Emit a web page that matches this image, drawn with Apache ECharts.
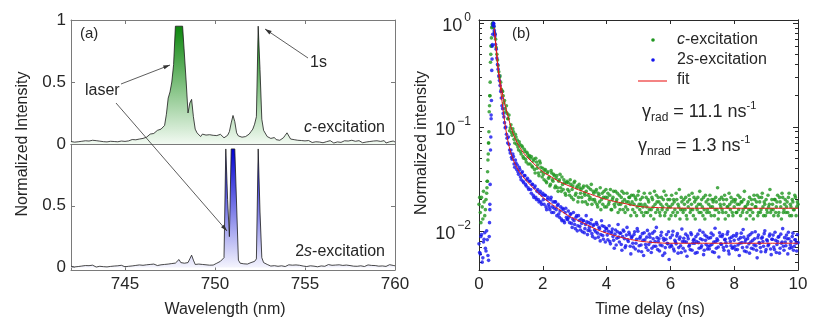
<!DOCTYPE html>
<html>
<head>
<meta charset="utf-8">
<script src="https://cdn.jsdelivr.net/npm/echarts@6/dist/echarts.min.js"></script>
<style>
  html, body { margin: 0; padding: 0; background: #fff; }
  #chart { width: 831px; height: 327px; }
</style>
</head>
<body>
<div id="chart"></div>
<script>
// ---- (a) emission spectra, 742 - 760 nm in 0.1 nm steps ----
const wlStart = 742
const wlStep = 0.1
const wlTicks = [745, 750, 755, 760]
const specTicksTop = [0, 0.5, 1]
const specTicksBottom = [0, 0.5]

const cSpec = [
  0.02, 0.03, 0.015, 0.025, 0.018, 0.028, 0.022, 0.012, 0.026, 0.02,
  0.024, 0.016, 0.03, 0.021, 0.027, 0.014, 0.023, 0.031, 0.019, 0.025,
  0.017, 0.028, 0.022, 0.033, 0.02, 0.026, 0.018, 0.03, 0.024, 0.029,
  0.021, 0.032, 0.025, 0.03, 0.036, 0.027, 0.034, 0.03, 0.04, 0.035,
  0.045, 0.05, 0.055, 0.065, 0.08, 0.09, 0.085, 0.1, 0.11, 0.105,
  0.12, 0.13, 0.15, 0.24, 0.37, 0.42, 0.5, 0.64, 0.95, 0.95,
  0.95, 0.95, 0.95, 0.95, 0.5, 0.25, 0.33, 0.36, 0.22, 0.12,
  0.09, 0.075, 0.06, 0.08, 0.065, 0.072, 0.058, 0.075, 0.062, 0.07,
  0.055, 0.068, 0.06, 0.078, 0.064, 0.05, 0.062, 0.07, 0.1, 0.17,
  0.23, 0.18, 0.09, 0.065, 0.07, 0.055, 0.068, 0.06, 0.075, 0.08,
  0.1, 0.12, 0.16, 0.22, 0.95, 0.6, 0.2, 0.11, 0.1, 0.06,
  0.05, 0.045, 0.04, 0.052, 0.035, 0.048, 0.03, 0.045, 0.05, 0.07,
  0.09, 0.08, 0.04, 0.03, 0.035, 0.022, 0.03, 0.018, 0.028, 0.02,
  0.025, 0.015, 0.028, 0.02, 0.012, 0.024, 0.018, 0.03, 0.016, 0.022,
  0.01, 0.026, 0.019, 0.014, 0.027, 0.02, 0.008, 0.023, 0.017, 0.029,
  0.013, 0.021, 0.026, 0.011, 0.024, 0.018, 0.03, 0.015, 0.022, 0.012,
  0.027, 0.019, 0.01, 0.025, 0.016, 0.028, 0.02, 0.009, 0.024, 0.017,
  0.026, 0.012, 0.021, 0.015, 0.027, 0.008, 0.022, 0.018, 0.011, 0.024,
  0.016
]

const sSpec = [
  0.01, 0.018, 0.005, 0.014, 0.008, 0.02, 0.012, 0.003, 0.016, 0.009,
  0.015, 0.006, 0.019, 0.011, 0.004, 0.017, 0.01, 0.022, 0.007, 0.013,
  0.005, 0.016, 0.009, 0.02, 0.012, 0.003, 0.014, 0.008, 0.018, 0.011,
  0.006, 0.015, 0.01, 0.019, 0.013, 0.007, 0.017, 0.011, 0.021, 0.014,
  0.018, 0.01, 0.022, 0.015, 0.025, 0.017, 0.028, 0.02, 0.016, 0.026,
  0.022, 0.03, 0.025, 0.035, 0.028, 0.04, 0.032, 0.045, 0.036, 0.03,
  0.065, 0.04, 0.03, 0.035, 0.028, 0.04, 0.07, 0.1, 0.06, 0.025,
  0.02, 0.028, 0.018, 0.025, 0.015, 0.022, 0.03, 0.019, 0.026, 0.02,
  0.028, 0.035, 0.045, 0.05, 0.06, 0.08, 0.96, 0.55, 0.25, 0.96,
  0.96, 0.96, 0.96, 0.06, 0.035, 0.025, 0.03, 0.02, 0.028, 0.035,
  0.04, 0.045, 0.05, 0.07, 0.96, 0.45, 0.08, 0.04, 0.03, 0.025,
  0.02, 0.012, 0.024, 0.015, 0.02, 0.01, 0.022, 0.014, 0.018, 0.008,
  0.016, 0.022, 0.01, 0.019, 0.013, 0.021, 0.009, 0.018, 0.024, 0.012,
  0.017, 0.008, 0.02, 0.014, 0.023, 0.011, 0.016, 0.006, 0.019, 0.013,
  0.021, 0.01, 0.015, 0.024, 0.012, 0.018, 0.007, 0.02, 0.014, 0.022,
  0.009, 0.017, 0.013, 0.02, 0.006, 0.016, 0.023, 0.011, 0.018, 0.01,
  0.019, 0.014, 0.024, 0.008, 0.015, 0.021, 0.012, 0.017, 0.005, 0.016,
  0.022, 0.011, 0.018, 0.013, 0.02, 0.009, 0.016, 0.023, 0.012, 0.017,
  0.014
]

// ---- (b) time-resolved decay, 0 - 10 ns; two interleaved 0.04 ns sample sets ----
const tStep = 0.04
const tOffset2 = 0.02
const timeTicks = [0, 2, 4, 6, 8, 10]
const decadeTicks = [0.01, 0.1, 1]
const minorTicks = [0.005, 0.006, 0.007, 0.008, 0.009, 0.02, 0.03, 0.04, 0.05, 0.06, 0.07, 0.08, 0.09,
  0.2, 0.3, 0.4, 0.5, 0.6, 0.7, 0.8, 0.9]

// samples at t = 0, 0.04, 0.08 ... 10
const cDecay = [
  0.018, 0.015, 0.021, 0.013, 0.019, 0.016, 0.023, 0.048, 0.14, 0.42,
  0.9, 0.97, 0.82, 0.7, 0.5, 0.39, 0.3, 0.27, 0.22, 0.2,
  0.18, 0.14, 0.135, 0.12, 0.092, 0.105, 0.083, 0.09, 0.07, 0.08,
  0.075, 0.06, 0.068, 0.055, 0.064, 0.05, 0.058, 0.046, 0.055, 0.052,
  0.044, 0.052, 0.041, 0.049, 0.036, 0.046, 0.043, 0.034, 0.045, 0.037,
  0.04, 0.031, 0.039, 0.029, 0.037, 0.033, 0.028, 0.036, 0.03, 0.034,
  0.027, 0.034, 0.024, 0.031, 0.026, 0.033, 0.025, 0.029, 0.022, 0.03,
  0.029, 0.022, 0.028, 0.025, 0.02, 0.03, 0.023, 0.027, 0.021, 0.026,
  0.025, 0.019, 0.027, 0.022, 0.024, 0.018, 0.026, 0.021, 0.028, 0.02,
  0.023, 0.019, 0.025, 0.017, 0.022, 0.026, 0.02, 0.018, 0.024, 0.021,
  0.017, 0.023, 0.019, 0.025, 0.016, 0.021, 0.018, 0.024, 0.02, 0.015,
  0.022, 0.018, 0.024, 0.016, 0.02, 0.017, 0.023, 0.019, 0.021, 0.014,
  0.019, 0.022, 0.015, 0.02, 0.017, 0.024, 0.016, 0.018, 0.021, 0.014,
  0.018, 0.021, 0.015, 0.019, 0.023, 0.016, 0.02, 0.013, 0.018, 0.022,
  0.016, 0.019, 0.014, 0.021, 0.017, 0.024, 0.015, 0.018, 0.02, 0.013,
  0.017, 0.022, 0.015, 0.019, 0.014, 0.02, 0.018, 0.025, 0.016, 0.019,
  0.015, 0.018, 0.021, 0.013, 0.017, 0.02, 0.016, 0.023, 0.014, 0.019,
  0.02, 0.016, 0.018, 0.024, 0.015, 0.017, 0.021, 0.013, 0.019, 0.016,
  0.018, 0.022, 0.014, 0.017, 0.02, 0.016, 0.019, 0.026, 0.015, 0.018,
  0.021, 0.015, 0.018, 0.013, 0.02, 0.017, 0.023, 0.016, 0.019, 0.014,
  0.017, 0.02, 0.015, 0.022, 0.018, 0.014, 0.019, 0.016, 0.024, 0.017,
  0.015, 0.019, 0.021, 0.016, 0.018, 0.013, 0.02, 0.017, 0.022, 0.015,
  0.019, 0.016, 0.023, 0.014, 0.018, 0.02, 0.015, 0.017, 0.025, 0.016,
  0.018, 0.014, 0.02, 0.017, 0.022, 0.015, 0.019, 0.013, 0.021, 0.016,
  0.02, 0.017, 0.015, 0.023, 0.018, 0.014, 0.019, 0.016, 0.021, 0.017,
  0.018
]
// samples at t = 0.02, 0.06 ... 9.98
const cDecay2 = [
  0.021, 0.012, 0.017, 0.024, 0.014, 0.02, 0.03, 0.07, 0.2, 0.6,
  0.98, 0.93, 0.78, 0.58, 0.44, 0.34, 0.31, 0.23, 0.22, 0.17,
  0.15, 0.16, 0.12, 0.13, 0.098, 0.088, 0.096, 0.076, 0.085, 0.068,
  0.064, 0.072, 0.058, 0.066, 0.052, 0.061, 0.049, 0.057, 0.044, 0.053,
  0.05, 0.042, 0.047, 0.039, 0.05, 0.04, 0.036, 0.047, 0.041, 0.033,
  0.035, 0.038, 0.03, 0.036, 0.032, 0.027, 0.038, 0.031, 0.035, 0.026,
  0.032, 0.026, 0.03, 0.035, 0.024, 0.028, 0.031, 0.023, 0.029, 0.025,
  0.024, 0.031, 0.021, 0.027, 0.029, 0.022, 0.026, 0.019, 0.028, 0.023,
  0.021, 0.026, 0.023, 0.019, 0.027, 0.022, 0.02, 0.025, 0.018, 0.024,
  0.02, 0.024, 0.018, 0.023, 0.019, 0.016, 0.023, 0.021, 0.017, 0.025,
  0.021, 0.018, 0.022, 0.016, 0.02, 0.024, 0.017, 0.019, 0.023, 0.018,
  0.016, 0.021, 0.019, 0.023, 0.015, 0.019, 0.016, 0.021, 0.018, 0.022,
  0.016, 0.018, 0.021, 0.014, 0.022, 0.018, 0.02, 0.015, 0.017, 0.023,
  0.015, 0.017, 0.02, 0.016, 0.014, 0.021, 0.017, 0.024, 0.015, 0.019,
  0.021, 0.015, 0.018, 0.016, 0.02, 0.014, 0.022, 0.016, 0.017, 0.02,
  0.014, 0.018, 0.02, 0.016, 0.023, 0.015, 0.017, 0.013, 0.021, 0.016,
  0.02, 0.016, 0.014, 0.019, 0.022, 0.015, 0.018, 0.016, 0.021, 0.013,
  0.017, 0.021, 0.015, 0.018, 0.02, 0.014, 0.016, 0.022, 0.015, 0.02,
  0.015, 0.017, 0.02, 0.019, 0.014, 0.021, 0.016, 0.013, 0.02, 0.017,
  0.016, 0.02, 0.022, 0.015, 0.017, 0.014, 0.018, 0.021, 0.015, 0.02,
  0.019, 0.015, 0.018, 0.016, 0.021, 0.019, 0.015, 0.02, 0.017, 0.013,
  0.018, 0.016, 0.014, 0.02, 0.015, 0.022, 0.017, 0.019, 0.014, 0.021,
  0.015, 0.021, 0.017, 0.019, 0.014, 0.016, 0.022, 0.018, 0.015, 0.02,
  0.016, 0.02, 0.015, 0.019, 0.014, 0.021, 0.017, 0.023, 0.015, 0.018,
  0.015, 0.019, 0.021, 0.014, 0.017, 0.02, 0.016, 0.022, 0.014, 0.019
]

const sDecay = [
  0.0075, 0.006, 0.0092, 0.0055, 0.0083, 0.0068, 0.01, 0.0058, 0.0088, 0.06,
  0.35, 0.95, 0.85, 0.62, 0.46, 0.36, 0.28, 0.22, 0.16, 0.135,
  0.11, 0.1, 0.078, 0.08, 0.06, 0.06, 0.049, 0.052, 0.041, 0.045,
  0.043, 0.035, 0.039, 0.031, 0.037, 0.029, 0.034, 0.027, 0.032, 0.025,
  0.03, 0.023, 0.028, 0.021, 0.027, 0.02, 0.025, 0.019, 0.024, 0.018,
  0.023, 0.018, 0.022, 0.016, 0.021, 0.017, 0.02, 0.015, 0.019, 0.0165,
  0.019, 0.014, 0.018, 0.0135, 0.017, 0.0125, 0.016, 0.012, 0.0165, 0.013,
  0.0155, 0.012, 0.0145, 0.0108, 0.015, 0.0115, 0.0135, 0.01, 0.014, 0.011,
  0.013, 0.0098, 0.0125, 0.0105, 0.014, 0.0092, 0.012, 0.01, 0.0128, 0.0088,
  0.0115, 0.0085, 0.012, 0.0095, 0.0108, 0.008, 0.0125, 0.009, 0.011, 0.0078,
  0.0105, 0.0082, 0.0112, 0.0075, 0.0098, 0.0088, 0.0068, 0.0102, 0.0085, 0.0115,
  0.0078, 0.0095, 0.0065, 0.0102, 0.0084, 0.0072, 0.0108, 0.0079, 0.0092, 0.006,
  0.0088, 0.007, 0.0098, 0.0076, 0.0105, 0.0064, 0.0085, 0.0073, 0.0094, 0.0058,
  0.0082, 0.0069, 0.0101, 0.0074, 0.0087, 0.0062, 0.0095, 0.0071, 0.0079, 0.0108,
  0.0066, 0.0084, 0.0073, 0.0097, 0.0058, 0.0081, 0.0069, 0.0092, 0.0075, 0.0053,
  0.0086, 0.0071, 0.0099, 0.0064, 0.0078, 0.0089, 0.0061, 0.0083, 0.0072, 0.0104,
  0.0068, 0.0079, 0.0093, 0.0057, 0.0084, 0.0073, 0.0096, 0.0065, 0.0081, 0.0076,
  0.0088, 0.0062, 0.0077, 0.0101, 0.0069, 0.0082, 0.0059, 0.0091, 0.0074, 0.0067,
  0.0085, 0.0072, 0.0095, 0.0063, 0.0078, 0.0106, 0.0068, 0.0081, 0.0056, 0.0089,
  0.0074, 0.0092, 0.0065, 0.0083, 0.0071, 0.0098, 0.006, 0.0079, 0.0087, 0.0069,
  0.0081, 0.0066, 0.0094, 0.0073, 0.0058, 0.0086, 0.0077, 0.0103, 0.0064, 0.0082,
  0.007, 0.0089, 0.0061, 0.0078, 0.0096, 0.0067, 0.0084, 0.0072, 0.0055, 0.0091,
  0.0076, 0.0063, 0.0087, 0.0071, 0.01, 0.0066, 0.008, 0.0074, 0.0093, 0.0059,
  0.0083, 0.007, 0.0097, 0.0062, 0.0079, 0.0088, 0.0068, 0.0076, 0.0105, 0.0065,
  0.0078, 0.0091, 0.006, 0.0084, 0.0073, 0.0069, 0.0095, 0.0071, 0.0082, 0.0064,
  0.0077
]
const sDecay2 = [
  0.0062, 0.0088, 0.005, 0.0078, 0.0096, 0.0064, 0.0082, 0.0052, 0.016, 0.13,
  0.62, 0.99, 0.78, 0.56, 0.4, 0.31, 0.25, 0.19, 0.15, 0.125,
  0.098, 0.085, 0.07, 0.068, 0.056, 0.051, 0.055, 0.044, 0.048, 0.039,
  0.037, 0.041, 0.033, 0.036, 0.03, 0.034, 0.028, 0.031, 0.026, 0.03,
  0.025, 0.028, 0.022, 0.026, 0.021, 0.024, 0.02, 0.023, 0.019, 0.022,
  0.02, 0.022, 0.017, 0.02, 0.018, 0.016, 0.021, 0.017, 0.015, 0.019,
  0.016, 0.0175, 0.0145, 0.0155, 0.013, 0.0165, 0.0125, 0.015, 0.0135, 0.0128,
  0.0135, 0.0145, 0.0118, 0.013, 0.0125, 0.0105, 0.014, 0.0112, 0.0126, 0.0102,
  0.0118, 0.0126, 0.0096, 0.0115, 0.0122, 0.0101, 0.0108, 0.0117, 0.0094, 0.0112,
  0.0102, 0.0098, 0.0115, 0.0087, 0.0105, 0.0092, 0.0112, 0.0083, 0.0099, 0.0106,
  0.0091, 0.0099, 0.0079, 0.0095, 0.0104, 0.0081, 0.0093, 0.0073, 0.0098, 0.0087,
  0.0095, 0.0074, 0.0088, 0.0099, 0.0069, 0.0091, 0.0082, 0.0097, 0.0071, 0.0086,
  0.0076, 0.0092, 0.0067, 0.0083, 0.0099, 0.0072, 0.0088, 0.0063, 0.0081, 0.0096,
  0.0074, 0.0087, 0.0065, 0.0093, 0.0078, 0.0068, 0.0084, 0.0099, 0.0071, 0.0086,
  0.0079, 0.0064, 0.009, 0.0072, 0.0085, 0.0061, 0.0083, 0.0076, 0.0098, 0.007,
  0.0073, 0.0091, 0.0067, 0.0081, 0.0075, 0.0094, 0.0069, 0.0087, 0.0062, 0.0079,
  0.0085, 0.0064, 0.0078, 0.0089, 0.0071, 0.0066, 0.0092, 0.0076, 0.0083, 0.0061,
  0.0079, 0.0093, 0.0068, 0.0084, 0.0072, 0.0097, 0.0065, 0.0081, 0.0088, 0.0071,
  0.0067, 0.0086, 0.0074, 0.0091, 0.0062, 0.0079, 0.0084, 0.007, 0.0096, 0.0075,
  0.0088, 0.0069, 0.0082, 0.0077, 0.0093, 0.0064, 0.0085, 0.0072, 0.0068, 0.009,
  0.0071, 0.0089, 0.0066, 0.0083, 0.0076, 0.0095, 0.0069, 0.0087, 0.0078, 0.0063,
  0.0084, 0.0075, 0.0092, 0.0068, 0.0081, 0.0073, 0.0098, 0.0065, 0.0086, 0.0077,
  0.0069, 0.0085, 0.0079, 0.0094, 0.0063, 0.0082, 0.0072, 0.0089, 0.0067, 0.0083,
  0.0091, 0.0066, 0.0081, 0.0074, 0.0087, 0.0061, 0.0093, 0.0078, 0.0071, 0.0086,
  0.0072, 0.0084, 0.0097, 0.0068, 0.0079, 0.0088, 0.0065, 0.0082, 0.0076, 0.0092
]

// extra points on the rising edge (finer sampling there)
const cRiseT = [0.25, 0.26, 0.27, 0.29, 0.3, 0.31, 0.33, 0.34, 0.35, 0.37, 0.38, 0.39, 0.41, 0.42, 0.43, 0.45, 0.46]
const cRiseV = [0.026, 0.03, 0.037, 0.055, 0.07, 0.09, 0.16, 0.2, 0.27, 0.5, 0.6, 0.72, 0.92, 0.98, 1.0, 0.95, 0.9]
const sRiseT = [0.33, 0.34, 0.35, 0.37, 0.38, 0.39, 0.41, 0.42, 0.43, 0.45, 0.46, 0.47, 0.49, 0.5]
const sRiseV = [0.012, 0.018, 0.028, 0.08, 0.12, 0.18, 0.45, 0.6, 0.78, 1.0, 0.98, 0.93, 0.8, 0.75]

// fit curves
const cFitT = [0.48, 0.5, 0.55, 0.6, 0.7, 0.8, 0.9, 1.0, 1.1, 1.2, 1.4, 1.6, 1.8, 2.0, 2.2, 2.5, 3.0, 3.5, 4.0, 4.5, 5.0, 5.5, 6, 7, 8, 9, 10]
const cFitV = [0.85, 0.77, 0.55, 0.37, 0.24, 0.17, 0.13, 0.1, 0.082, 0.07, 0.056, 0.048, 0.042, 0.037, 0.034, 0.03, 0.0257, 0.0225, 0.02, 0.0185, 0.0172, 0.0168, 0.0166, 0.0165, 0.0165, 0.0165, 0.0165]
const sFitT = [0.48, 0.5, 0.55, 0.6, 0.65, 0.7, 0.8, 0.9, 1.0, 1.1, 1.2, 1.33, 1.5, 1.75, 2.0, 2.4, 2.8, 3.2, 3.6, 4.0, 4.5, 5.0, 5.5, 6, 7, 8, 9, 10]
const sFitV = [0.9, 0.75, 0.5, 0.36, 0.27, 0.2, 0.115, 0.075, 0.056, 0.046, 0.04, 0.0346, 0.03, 0.025, 0.021, 0.017, 0.014, 0.0122, 0.0106, 0.0095, 0.0086, 0.008, 0.0077, 0.0076, 0.0076, 0.0076, 0.0076, 0.0076]

const FONT = '"Liberation Sans", Arial, sans-serif'
const GRAY = '#7a7a7a'
const DARK = '#2a2a2a'
const TXT = '#262626'

const chart = echarts.init(document.getElementById('chart'))

function axis(gridIndex, position, type, min, max, color, extra) {
  return Object.assign({
    gridIndex, position, type, min, max,
    axisLine: { show: true, onZero: false, lineStyle: { color, width: 1 } },
    axisTick: { show: false },
    axisLabel: { show: false },
    splitLine: { show: false }
  }, extra)
}
function ticks(values, len) {
  return { show: true, inside: true, length: len || 5, customValues: values }
}
function labels(values, margin) {
  return { show: true, customValues: values, margin: margin || 5, fontFamily: FONT, fontSize: 17, color: TXT }
}

const xAxes = [
  axis(0, 'bottom', 'value', 742, 760, GRAY),
  axis(0, 'top', 'value', 742, 760, GRAY, { axisTick: ticks(wlTicks, 4) }),
  axis(1, 'bottom', 'value', 742, 760, GRAY, { axisTick: ticks(wlTicks, 4), axisLabel: labels(wlTicks, 6) }),
  axis(1, 'top', 'value', 742, 760, GRAY),
  axis(2, 'bottom', 'value', 0, 10, DARK, { axisTick: ticks(timeTicks, 4), axisLabel: labels(timeTicks, 6) }),
  axis(2, 'top', 'value', 0, 10, DARK, { axisTick: ticks(timeTicks, 4) })
]

const logLabel = Object.assign(labels(decadeTicks, 8), {
  formatter: v => {
    const e = Math.log10(v)
    if (Math.abs(e - Math.round(e)) > 1e-6) return ''
    const r = Math.round(e)
    return '{b|10}{e|' + (r < 0 ? '\u2212' + (-r) : r) + '}'
  },
  rich: {
    b: { fontFamily: FONT, fontSize: 18, color: TXT, lineHeight: 22, padding: [6, 0, 0, 0] },
    e: { fontFamily: FONT, fontSize: 12, color: TXT, lineHeight: 12, verticalAlign: 'top', padding: [0, 0, 0, 2] }
  }
})

const yAxes = [
  axis(0, 'left', 'value', 0, 1, GRAY, { axisTick: ticks(specTicksTop, 4), axisLabel: labels(specTicksTop, 5) }),
  axis(0, 'right', 'value', 0, 1, GRAY, { axisTick: ticks([0.5], 4) }),
  axis(1, 'left', 'value', -0.02, 1, GRAY, { axisTick: ticks(specTicksBottom, 4), axisLabel: labels(specTicksBottom, 5) }),
  axis(1, 'right', 'value', -0.02, 1, GRAY, { axisTick: ticks([0.5], 4) }),
  axis(2, 'left', 'log', 0.0042, 1.07, DARK, { logBase: 10, axisTick: ticks(decadeTicks, 5), axisLabel: logLabel }),
  axis(2, 'left', 'log', 0.0042, 1.07, DARK, { logBase: 10, axisTick: ticks(minorTicks, 3) }),
  axis(2, 'right', 'log', 0.0042, 1.07, DARK, { logBase: 10, axisTick: ticks(decadeTicks, 5) }),
  axis(2, 'right', 'log', 0.0042, 1.07, DARK, { logBase: 10, axisTick: ticks(minorTicks, 3) })
]

const grad = (top, bottom) => new echarts.graphic.LinearGradient(0, 0, 0, 1, [
  { offset: 0, color: top }, { offset: 1, color: bottom }
])

const specC = cSpec.map((v, i) => [wlStart + i * wlStep, v])
const specS = sSpec.map((v, i) => [wlStart + i * wlStep, v])
const decC = cDecay.map((v, i) => [i * tStep, v])
  .concat(cDecay2.map((v, i) => [tOffset2 + i * tStep, v]))
  .concat(cRiseT.map((t, i) => [t, cRiseV[i]]))
const decS = sDecay.map((v, i) => [i * tStep, v])
  .concat(sDecay2.map((v, i) => [tOffset2 + i * tStep, v]))
  .concat(sRiseT.map((t, i) => [t, sRiseV[i]]))
const fitC = cFitT.map((t, i) => [t, cFitV[i]])
const fitS = sFitT.map((t, i) => [t, sFitV[i]])

const GREEN = '#1f961f'
const BLUE = '#1414ee'
const RED = '#e01818'

// annotation helpers
function txt(x, y, text, size, extra) {
  return {
    type: 'text', x, y, z: 100,
    style: Object.assign({ text, fontFamily: FONT, fontSize: size, fill: TXT, align: 'left', verticalAlign: 'middle' }, extra)
  }
}
function arrow(x1, y1, x2, y2) {
  const a = Math.atan2(y2 - y1, x2 - x1), L = 7, w = 0.3
  return [
    { type: 'line', z: 100, shape: { x1, y1, x2, y2 }, style: { stroke: '#333', lineWidth: 0.8 } },
    {
      type: 'polygon', z: 100,
      shape: { points: [[x2, y2], [x2 - L * Math.cos(a - w), y2 - L * Math.sin(a - w)], [x2 - L * Math.cos(a + w), y2 - L * Math.sin(a + w)]] },
      style: { fill: '#333' }
    }
  ]
}
const italicRich = {
  i: { fontFamily: FONT, fontSize: 16, fontStyle: 'italic', fill: TXT },
  n: { fontFamily: FONT, fontSize: 16, fill: TXT }
}
const gammaRich = {
  g: { fontFamily: FONT, fontSize: 18, fill: TXT, lineHeight: 24 },
  sub: { fontFamily: FONT, fontSize: 12, fill: TXT, lineHeight: 12, verticalAlign: 'bottom' },
  t: { fontFamily: FONT, fontSize: 18, fill: TXT, lineHeight: 24 },
  sup: { fontFamily: FONT, fontSize: 11, fill: TXT, lineHeight: 12, verticalAlign: 'top' }
}

const yTitleLeft = txt(23, 144, 'Normalized Intensity', 16, { align: 'center' })
yTitleLeft.rotation = Math.PI / 2
const yTitleRight = txt(422, 143, 'Normalized intensity', 16, { align: 'center' })
yTitleRight.rotation = Math.PI / 2

const graphics = [
  txt(80, 34, '(a)', 15),
  txt(85, 91, 'laser', 16),
  txt(310, 63, '1s', 16),
  txt(385, 128, '{i|c}{n|-excitation}', 16, { align: 'right', rich: italicRich }),
  txt(385, 252, '{n|2}{i|s}{n|-excitation}', 16, { align: 'right', rich: italicRich }),
  txt(512, 34, '(b)', 15),
  { type: 'circle', z: 100, shape: { cx: 653, cy: 40, r: 1.8 }, style: { fill: GREEN } },
  txt(677, 40, '{i|c}{n|-excitation}', 16, { rich: italicRich }),
  { type: 'circle', z: 100, shape: { cx: 653, cy: 60, r: 1.8 }, style: { fill: BLUE } },
  txt(677, 60, '{n|2}{i|s}{n|-excitation}', 16, { rich: italicRich }),
  { type: 'line', z: 100, shape: { x1: 638, y1: 81, x2: 667, y2: 81 }, style: { stroke: '#f05a5a', lineWidth: 1.5 } },
  txt(677, 80, 'fit', 16),
  txt(642, 112, '{g|\u03b3}{sub|rad}{t| = 11.1 ns}{sup|-1}', 18, { rich: gammaRich }),
  txt(638, 146, '{g|\u03b3}{sub|nrad}{t| = 1.3 ns}{sup|-1}', 18, { rich: gammaRich }),
  yTitleLeft,
  txt(225, 310, 'Wavelength (nm)', 16, { align: 'center' }),
  yTitleRight,
  txt(650, 310, 'Time delay (ns)', 16, { align: 'center' })
].concat(arrow(121, 84, 170, 65), arrow(116, 103, 227, 231), arrow(308, 58, 265, 29))

chart.setOption({
  animation: false,
  backgroundColor: '#fff',
  grid: [
    { left: 71, top: 20, width: 324, height: 124, outerBoundsMode: 'none' },
    { left: 71, top: 144, width: 324, height: 126, outerBoundsMode: 'none' },
    { left: 479, top: 20, width: 319, height: 250, outerBoundsMode: 'none' }
  ],
  xAxis: xAxes,
  yAxis: yAxes,
  series: [
    {
      name: 'c-excitation spectrum', type: 'line', xAxisIndex: 0, yAxisIndex: 0, data: specC,
      symbol: 'none', lineStyle: { color: '#1a1a1a', width: 0.8 },
      areaStyle: { color: grad('#0c860c', '#f2faf2'), opacity: 1 }
    },
    {
      name: '2s-excitation spectrum', type: 'line', xAxisIndex: 2, yAxisIndex: 2, data: specS,
      symbol: 'none', lineStyle: { color: '#1a1a1a', width: 0.8 },
      areaStyle: { color: grad('#0000d2', '#f4f4fd'), opacity: 1 }
    },
    {
      name: 'c-excitation', type: 'scatter', xAxisIndex: 4, yAxisIndex: 4, data: decC,
      symbolSize: 3.6, itemStyle: { color: GREEN }
    },
    {
      name: '2s-excitation', type: 'scatter', xAxisIndex: 4, yAxisIndex: 4, data: decS,
      symbolSize: 3.6, itemStyle: { color: BLUE }
    },
    {
      name: 'fit c', type: 'line', xAxisIndex: 4, yAxisIndex: 4, data: fitC, smooth: 0.3,
      symbol: 'none', lineStyle: { color: RED, width: 1 }, z: 5
    },
    {
      name: 'fit 2s', type: 'line', xAxisIndex: 4, yAxisIndex: 4, data: fitS, smooth: 0.3,
      symbol: 'none', lineStyle: { color: RED, width: 1 }, z: 5
    }
  ],
  graphic: graphics
})
</script>
</body>
</html>
